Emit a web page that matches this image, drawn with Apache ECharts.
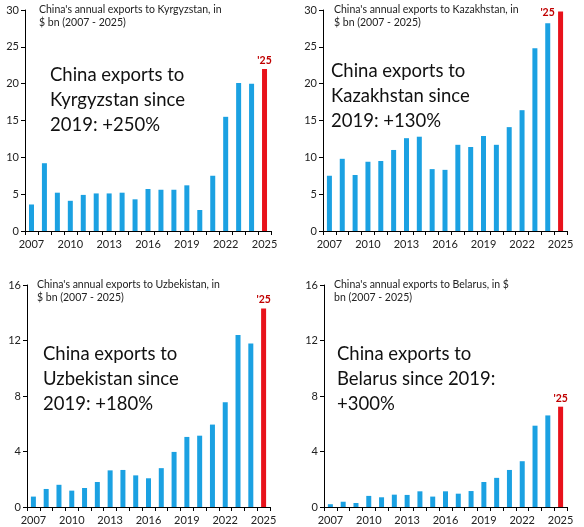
<!DOCTYPE html>
<html><head><meta charset="utf-8">
<script src="https://cdn.jsdelivr.net/npm/echarts@6/dist/echarts.min.js"></script>
<style>html,body{margin:0;padding:0;background:#fff}#c{width:584px;height:527px}</style>
</head><body><div id="c"></div>
<script>
const years = ['2007','2008','2009','2010','2011','2012','2013','2014','2015','2016','2017','2018','2019','2020','2021','2022','2023','2024','2025'];
const kyrgyzstan = [3.6,9.2,5.2,4.1,4.9,5.1,5.1,5.2,4.3,5.7,5.6,5.6,6.2,2.85,7.5,15.5,20.1,20.0,22.0];
const kazakhstan = [7.5,9.8,7.6,9.4,9.5,11.0,12.6,12.8,8.4,8.3,11.7,11.4,12.9,11.7,14.1,16.4,24.8,28.2,29.8];
const uzbekistan = [0.75,1.3,1.6,1.18,1.37,1.8,2.64,2.67,2.28,2.07,2.8,3.97,5.05,5.14,5.94,7.55,12.4,11.78,14.3];
const belarus = [0.2,0.38,0.29,0.8,0.7,0.89,0.87,1.13,0.75,1.13,0.96,1.15,1.8,2.1,2.67,3.3,5.86,6.6,7.23];
const smallTitles = ["China's annual exports to Kyrgyzstan, in\n$ bn (2007 - 2025)",
  "China's annual exports to Kazakhstan, in\n$ bn (2007 - 2025)",
  "China's annual exports to Uzbekistan, in\n$ bn (2007 - 2025)",
  "China's annual exports to Belarus, in $\nbn (2007 - 2025)"];
const bigTexts = ["China exports to\nKyrgyzstan since\n2019: +250%",
  "China exports to\nKazakhstan since\n2019: +130%",
  "China exports to\nUzbekistan since\n2019: +180%",
  "China exports to\nBelarus since 2019:\n+300%"];
const yMax = [30,30,16,16];
const yStep = [5,5,4,4];
const lastLabel = "'25";

const FONT = 'Lato';
const grids = [
  {left:25, top:10, width:246, height:221},
  {left:323, top:10, width:244, height:221},
  {left:27, top:285, width:243, height:222},
  {left:324, top:285, width:243, height:222}
];
const smallPos = [[39,3],[334,3],[37,278],[334,278]];
const bigPos = [[50,63],[331,59],[43,342],[337,342]];
const labelOffset = [[0,0],[-13,10],[0,0],[0,0]];
const datasets = [kyrgyzstan,kazakhstan,uzbekistan,belarus];

const option = {
  animation:false,
  backgroundColor:'#fff',
  title: [],
  grid: grids,
  xAxis: [], yAxis: [], series: []
};
for (let i=0;i<4;i++){
  option.title.push({text:smallTitles[i], left:smallPos[i][0], top:smallPos[i][1], padding:0,
    textStyle:{fontFamily:FONT, fontSize:10.5, fontWeight:'normal', color:'#222', lineHeight:13}});
  option.title.push({text:bigTexts[i], left:bigPos[i][0], top:bigPos[i][1], padding:0,
    textStyle:{fontFamily:FONT, fontSize:18.5, fontWeight:'normal', color:'#111', lineHeight:25}});
  option.xAxis.push({type:'category', gridIndex:i, data:years, boundaryGap:true,
    axisLine:{lineStyle:{color:'#000', width:1}},
    axisTick:{show:true, interval:0, length:4, lineStyle:{color:'#000'}},
    axisLabel:{interval:2, margin:8, fontFamily:FONT, fontSize:11, color:'#222'}});
  option.yAxis.push({type:'value', gridIndex:i, min:0, max:yMax[i], interval:yStep[i],
    splitLine:{show:false},
    axisLine:{show:true, lineStyle:{color:'#000', width:1}},
    axisTick:{show:true, length:4, lineStyle:{color:'#000'}},
    axisLabel:{margin:6, fontFamily:FONT, fontSize:11, color:'#222'}});
  const d = datasets[i].map((v,j)=> j===datasets[i].length-1 ?
    {value:v, itemStyle:{color:'#e8121b'},
     label:{show:true, position:'top', formatter:lastLabel, distance:3, offset:labelOffset[i],
       fontFamily:FONT, fontSize:10.5, fontWeight:'bold', color:'#c00000'}} : v);
  option.series.push({type:'bar', xAxisIndex:i, yAxisIndex:i, data:d, barWidth:5,
    itemStyle:{color:'#1ba1e2'}});
}
echarts.init(document.getElementById('c')).setOption(option);
</script></body></html>
